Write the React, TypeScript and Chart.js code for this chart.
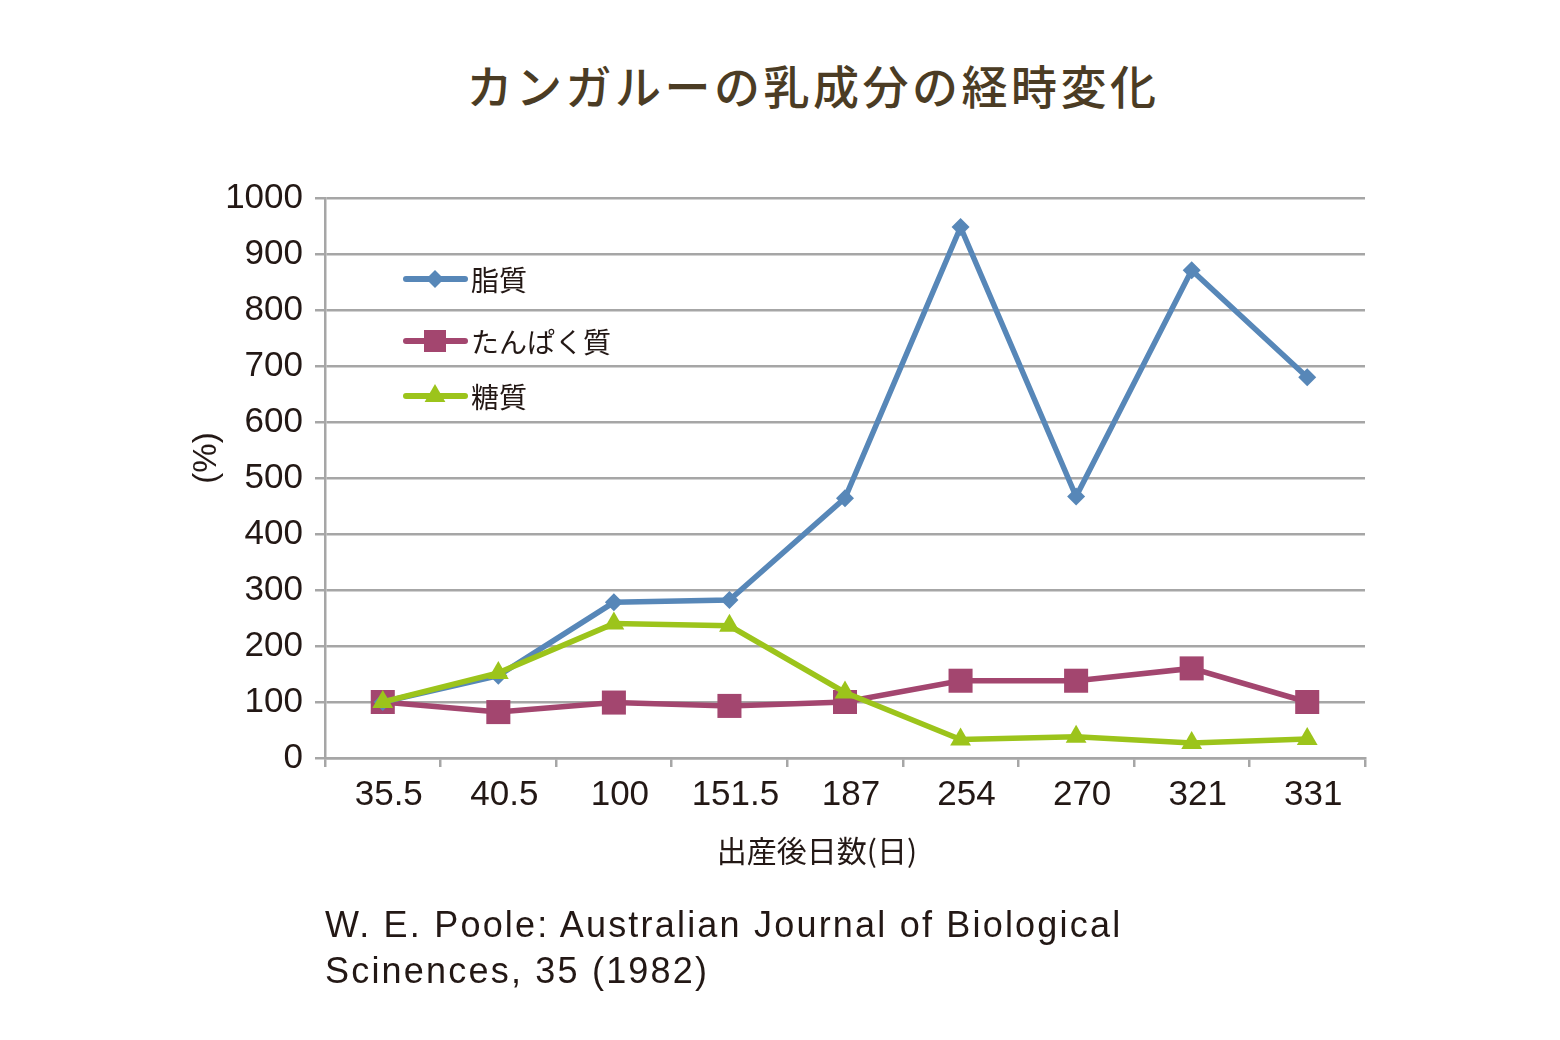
import React, { useEffect, useRef } from 'react';
import { Chart, registerables } from 'chart.js';

Chart.register(...registerables);

const categories = ['35.5', '40.5', '100', '151.5', '187', '254', '270', '321', '331'];
const fatValues = [100, 147, 278, 282, 464, 948, 467, 871, 680];
const proteinValues = [100, 82, 99, 93, 100, 138, 138, 160, 100];
const sugarValues = [100, 152, 240, 236, 117, 33, 38, 27, 34];
const seriesNames = ['脂質', 'たんぱく質', '糖質'];
const seriesColors = ['#5787b8', '#a3466f', '#9cc41b'];
const yMin = 0;
const yMax = 1000;
const yStep = 100;

const titleText = 'カンガルーの乳成分の経時変化';
const xTitle = '出産後日数(日)';
const yTitle = '(%)';
const sourceLines = ['W. E. Poole: Australian Journal of Biological', 'Scinences, 35 (1982)'];

const TEXT = '#231815';
const GRID = '#a6a6a6';
const LATIN = "'Liberation Sans', Arial, sans-serif";
const CJK = "'Noto Sans CJK JP', 'Noto Sans', sans-serif";

function drawMarker(ctx: CanvasRenderingContext2D, style: string, x: number, y: number, color: string) {
  ctx.fillStyle = color;
  ctx.beginPath();
  if (style === 'rectRot') {
    const r = 9;
    ctx.moveTo(x, y - r);
    ctx.lineTo(x + r, y);
    ctx.lineTo(x, y + r);
    ctx.lineTo(x - r, y);
  } else if (style === 'rect') {
    const s = 11;
    ctx.rect(x - s, y - s, 2 * s, 2 * s);
  } else {
    const r = 12;
    ctx.moveTo(x, y - r);
    ctx.lineTo(x + r * 0.866, y + r / 2);
    ctx.lineTo(x - r * 0.866, y + r / 2);
  }
  ctx.closePath();
  ctx.fill();
}

const insideLegend = {
  id: 'insideLegend',
  afterDatasetsDraw(chart: any) {
    const ctx: CanvasRenderingContext2D = chart.ctx;
    const rows = [279, 341, 396];
    chart.data.datasets.forEach((ds: any, i: number) => {
      const y = rows[i];
      ctx.save();
      ctx.strokeStyle = ds.borderColor;
      ctx.lineWidth = 6;
      ctx.lineCap = 'round';
      ctx.beginPath();
      ctx.moveTo(406, y);
      ctx.lineTo(465, y);
      ctx.stroke();
      drawMarker(ctx, ds.pointStyle, 435, y, ds.borderColor);
      ctx.fillStyle = TEXT;
      ctx.font = `28px ${CJK}`;
      ctx.textBaseline = 'middle';
      ctx.textAlign = 'left';
      ctx.fillText(ds.label, 471, y + 1);
      ctx.restore();
    });
  },
};

const axisTitles = {
  id: 'axisTitles',
  afterDraw(chart: any) {
    const ctx: CanvasRenderingContext2D = chart.ctx;
    ctx.save();
    ctx.fillStyle = TEXT;
    ctx.textAlign = 'center';
    ctx.textBaseline = 'middle';
    ctx.font = `30px ${CJK}`;
    ctx.fillText(xTitle, 817, 851);
    ctx.translate(207, 458);
    ctx.rotate(-Math.PI / 2);
    ctx.font = `33px ${LATIN}`;
    ctx.fillText(yTitle, 0, 0);
    ctx.restore();
  },
};

export default function App() {
  const canvasRef = useRef<HTMLCanvasElement | null>(null);

  useEffect(() => {
    if (!canvasRef.current) return;
    const chart = new Chart(canvasRef.current, {
      type: 'line',
      data: {
        labels: categories,
        datasets: [
          {
            label: seriesNames[0],
            data: fatValues,
            borderColor: seriesColors[0],
            backgroundColor: seriesColors[0],
            borderWidth: 5.5,
            pointStyle: 'rectRot',
            pointRadius: 9,
            pointBorderWidth: 0,
            order: 2,
          },
          {
            label: seriesNames[1],
            data: proteinValues,
            borderColor: seriesColors[1],
            backgroundColor: seriesColors[1],
            borderWidth: 5.5,
            pointStyle: 'rect',
            pointRadius: 17,
            pointBorderWidth: 0,
            order: 3,
          },
          {
            label: seriesNames[2],
            data: sugarValues,
            borderColor: seriesColors[2],
            backgroundColor: seriesColors[2],
            borderWidth: 5.5,
            pointStyle: 'triangle',
            pointRadius: 12,
            pointBorderWidth: 0,
            order: 1,
          },
        ],
      },
      options: {
        responsive: false,
        animation: false,
        layout: { padding: { left: 170, right: 195, top: 198, bottom: 172 } },
        plugins: {
          legend: { display: false },
          tooltip: { enabled: false },
          title: { display: false },
        },
        scales: {
          x: {
            offset: true,
            grid: {
              offset: true,
              drawOnChartArea: false,
              drawTicks: true,
              tickLength: 9,
              color: GRID,
              lineWidth: 2.5,
            },
            border: { color: GRID, width: 2.5 },
            ticks: {
              font: { family: LATIN, size: 35 },
              color: TEXT,
              padding: 7,
              labelOffset: 6,
              maxRotation: 0,
              autoSkip: false,
            },
            title: { display: false },
            afterFit(scale: any) {
              scale.height = 110;
            },
          },
          y: {
            min: yMin,
            max: yMax,
            grid: { color: GRID, lineWidth: 2.5, tickLength: 10 },
            border: { color: GRID, width: 2.5 },
            ticks: {
              stepSize: yStep,
              font: { family: LATIN, size: 35 },
              color: TEXT,
              padding: 12,
              callback: (v: any) => String(v),
            },
            title: { display: false },
            afterFit(scale: any) {
              scale.width = 155;
            },
          },
        },
      },
      plugins: [insideLegend, axisTitles],
    });
    return () => chart.destroy();
  }, []);

  return (
    <div style={{ position: 'absolute', left: 0, top: 0, width: 1560, height: 1040, background: '#ffffff' }}>
      <div
        style={{
          position: 'absolute',
          left: 33,
          top: 59,
          width: 1560,
          textAlign: 'center',
          fontFamily: CJK,
          fontWeight: 500,
          fontSize: 46,
          lineHeight: '50px',
          letterSpacing: '3.5px',
          color: '#4b3c24',
        }}
      >
        {titleText}
      </div>
      <canvas ref={canvasRef} width={1560} height={1040} style={{ position: 'absolute', left: 0, top: 0 }} />
      <div
        style={{
          position: 'absolute',
          left: 325,
          top: 902,
          fontFamily: LATIN,
          fontSize: 36,
          lineHeight: '46px',
          letterSpacing: '2.2px',
          color: TEXT,
          whiteSpace: 'nowrap',
        }}
      >
        {sourceLines.map((l) => (
          <div key={l}>{l}</div>
        ))}
      </div>
    </div>
  );
}
